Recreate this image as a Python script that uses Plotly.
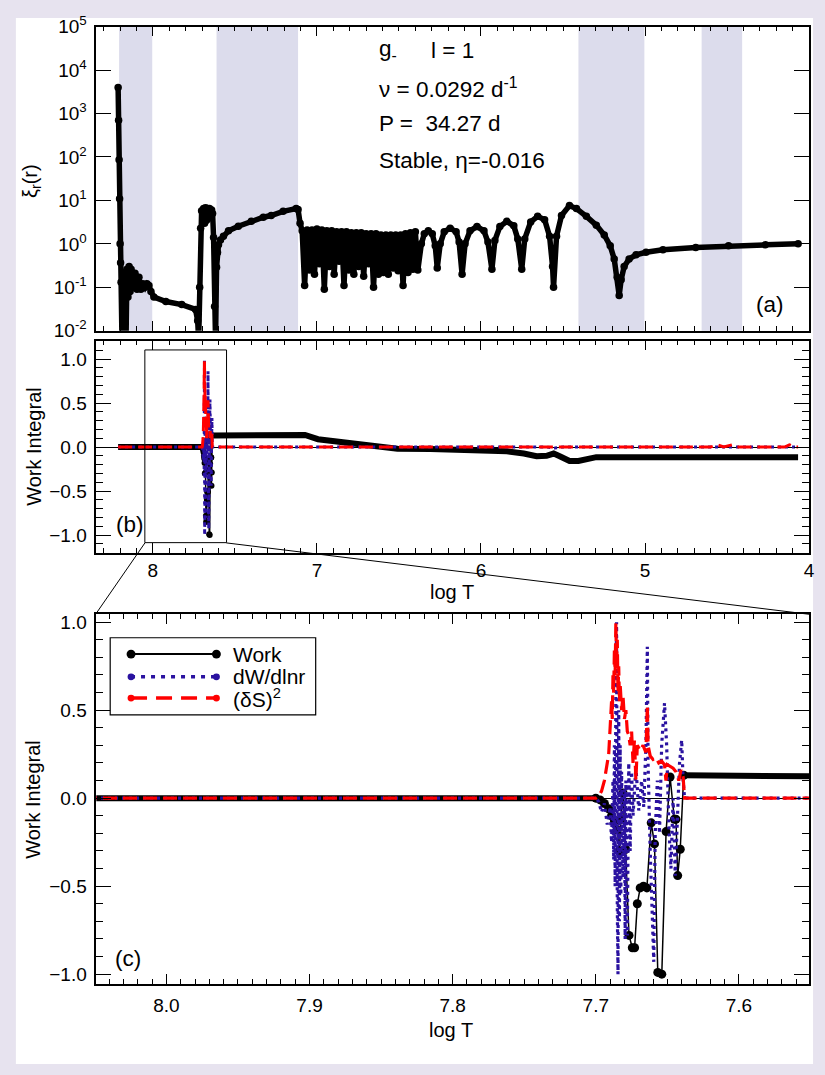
import plotly.graph_objects as go

W, H = 825, 1075
FONT = "Liberation Sans, Arial, sans-serif"
LAV = "#e7e3ef"
BAND = "#dcdcec"
BLUE = "#2a12a0"
RED = "#ff0000"

# ---------------- data ----------------
# convective zones (shaded in panel a), log T edges
band_hot = [8.206, 7.612, 5.406, 4.655]
band_cool = [8.004, 7.115, 5.004, 4.408]

# panel (a): radial displacement |xi_r| vs log T
xi_logT = [
    8.212, 8.209, 8.206, 8.203, 8.200, 8.197, 8.194, 8.188, 8.182, 8.176,
    8.170, 8.164, 8.158, 8.152, 8.145, 8.139, 8.133, 8.121, 8.109, 8.097,
    8.085, 8.073, 8.061, 8.048, 8.036, 8.024, 8.012, 7.994, 7.921, 7.824,
    7.740, 7.727, 7.721, 7.715, 7.709, 7.703, 7.691, 7.685, 7.679, 7.673,
    7.667, 7.661, 7.655, 7.648, 7.642, 7.636, 7.630, 7.624, 7.618, 7.612,
    7.606, 7.600, 7.588, 7.570, 7.539, 7.479, 7.400, 7.327, 7.279, 7.206,
    7.127, 7.115, 7.103,
    7.090, 7.075, 7.060, 7.045, 7.030, 7.015, 7.000, 6.985, 6.970, 6.955,
    6.940, 6.925, 6.910, 6.895, 6.880, 6.865, 6.850, 6.835, 6.820, 6.805,
    6.790, 6.775, 6.760, 6.745, 6.730, 6.715, 6.700, 6.685, 6.670, 6.655,
    6.640, 6.625, 6.610, 6.595, 6.580, 6.565, 6.550, 6.535, 6.520, 6.505,
    6.490, 6.475, 6.460, 6.445, 6.430, 6.415, 6.400, 6.385,
    6.3636, 6.3455, 6.3212, 6.2970, 6.2788, 6.2667, 6.2485, 6.2242, 6.1879, 6.1515,
    6.1333, 6.1152, 6.0970, 6.0667, 6.0242, 5.9818, 5.9576, 5.9333, 5.9152, 5.8848,
    5.8424, 5.8000, 5.7758, 5.7515, 5.7333, 5.6970, 5.6545, 5.6121, 5.5818, 5.5636,
    5.5576, 5.5394, 5.5091, 5.4606, 5.4182, 5.3576, 5.2970, 5.2485, 5.2121, 5.1879,
    5.1697, 5.1576, 5.1455, 5.1273, 5.0970, 5.0545, 4.9939, 4.8909, 4.6909, 4.4909,
    4.2667, 4.0667,
]
xi_val = [
    4000, 700, 87, 11, 1.0, 0.37, 0.13, 0.005, 0.22, 0.036,
    0.19, 0.005, 0.26, 0.06, 0.30, 0.08, 0.26, 0.10, 0.21, 0.09,
    0.17, 0.09, 0.12, 0.10, 0.12, 0.11, 0.08, 0.06, 0.047, 0.040,
    0.031, 0.017, 0.006, 0.10, 2.3, 5.8, 6.5, 3.0, 6.8, 3.5,
    6.5, 3.9, 6.5, 4.8, 6.0, 5.0, 1.4, 0.036, 0.006, 0.29,
    0.63, 0.95, 1.23, 1.5, 2.0, 2.55, 3.3, 4.1, 4.5, 5.6,
    6.5, 6.2, 3.0,
    2.0, 0.11, 2.1, 0.25, 2.1, 0.20, 2.2, 0.35, 2.1, 0.09,
    2.0, 0.30, 2.0, 0.20, 1.9, 0.40, 1.9, 0.11, 1.9, 0.25,
    1.8, 0.20, 1.8, 0.30, 1.8, 0.18, 1.7, 0.35, 1.7, 0.10,
    1.7, 0.20, 1.6, 0.22, 1.6, 0.20, 1.6, 0.28, 1.6, 0.24,
    1.6, 0.11, 1.7, 0.22, 1.8, 0.26, 1.9, 0.25,
    1.0, 1.7, 2.0, 1.7, 0.9, 0.28, 1.0, 1.9, 2.3, 1.9,
    1.1, 0.20, 1.0, 2.0, 2.5, 2.0, 1.1, 0.26, 1.2, 2.5,
    3.3, 2.6, 1.3, 0.26, 1.3, 3.2, 4.3, 3.6, 1.5, 0.30,
    0.10, 1.5, 4.5, 7.6, 6.5, 4.3, 2.7, 1.6, 0.9, 0.45,
    0.17, 0.065, 0.15, 0.30, 0.45, 0.56, 0.64, 0.73, 0.82, 0.90,
    0.95, 1.0,
]

# panels (b)/(c): work integral
work_core_logT = [8.212, 7.700]
work_core_val = [0.0, 0.0]
work_spike_logT = [
    7.700, 7.697, 7.694, 7.691, 7.689, 7.687, 7.685, 7.6835, 7.6825, 7.681,
    7.6792, 7.6768, 7.6745, 7.6729, 7.6710, 7.6690, 7.6667, 7.6643, 7.6613, 7.6590,
    7.6567, 7.6539, 7.6509, 7.6481, 7.6451, 7.6440, 7.6428, 7.6410, 7.6386,
]
work_spike_val = [
    0.0, -0.01, -0.03, -0.06, -0.10, -0.13, -0.18, -0.30, -0.12, 0.03,
    -0.29, -0.78, -0.85, -0.85, -0.60, -0.51, -0.50, -0.51, -0.14, -0.26,
    -0.99, -1.00, -0.19, 0.12, -0.12, -0.12, -0.44, -0.29, 0.13,
]
work_env_logT = [
    7.6386, 7.400, 7.200, 7.073, 6.994, 6.915, 6.812, 6.709, 6.612, 6.509,
    6.309, 6.103, 5.903, 5.842, 5.739, 5.661, 5.600, 5.557, 5.520, 5.460,
    5.406, 5.358, 5.297, 4.067,
]
work_env_val = [
    0.13, 0.13, 0.135, 0.137, 0.089, 0.074, 0.044, 0.026, 0.0, -0.019,
    -0.022, -0.030, -0.037, -0.048, -0.074, -0.104, -0.100, -0.074, -0.104, -0.159,
    -0.159, -0.133, -0.115, -0.115,
]

# differential work dW/dlnr
dw_logT = [
    8.212, 7.705, 7.700, 7.698, 7.696, 7.694, 7.692, 7.690, 7.689, 7.688,
    7.6875, 7.687, 7.6865, 7.686, 7.6855, 7.685, 7.6845, 7.684, 7.6835, 7.683,
    7.6825, 7.682, 7.681, 7.680, 7.6795, 7.679, 7.678, 7.677, 7.676, 7.675,
    7.674, 7.672, 7.670, 7.668, 7.6665, 7.665, 7.664, 7.6635, 7.662, 7.6595,
    7.6585, 7.657, 7.6555, 7.654, 7.652, 7.6505, 7.649, 7.6475, 7.646, 7.6445,
    7.643, 7.6415, 7.640, 7.639, 7.638, 5.600, 5.550, 5.500, 4.067,
]
dw_val = [
    0.0, 0.0, 0.0, -0.02, -0.08, -0.03, -0.15, -0.05, -0.25, 0.10,
    -0.35, 0.30, -0.50, 0.60, 1.00, -0.60, -1.00, 0.50, -0.70, 0.30,
    -0.55, 0.15, -0.45, 0.05, -0.80, 0.10, -0.78, 0.20, -0.30, 0.15,
    -0.10, 0.18, -0.07, 0.10, -0.05, 0.30, 0.86, 0.20, -0.30, -0.93,
    -0.20, 0.10, -0.20, 0.30, 0.54, 0.30, -0.15, -0.40, 0.0, -0.44,
    -0.10, 0.20, 0.33, 0.10, 0.0, 0.0, -0.012, 0.0, 0.0,
]

# entropy perturbation (dS)^2
ds_logT = [
    8.212, 7.705, 7.700, 7.698, 7.696, 7.694, 7.6925, 7.691, 7.690, 7.689,
    7.6885, 7.688, 7.6875, 7.687, 7.6865, 7.686, 7.6855, 7.685, 7.6845, 7.684,
    7.6835, 7.683, 7.682, 7.681, 7.680, 7.679, 7.678, 7.677, 7.676, 7.675,
    7.674, 7.673, 7.672, 7.671, 7.669, 7.667, 7.665, 7.664, 7.6635, 7.662,
    7.660, 7.658, 7.656, 7.654, 7.652, 7.651, 7.650, 7.648, 7.646, 7.644,
    7.642, 7.6405, 7.639, 7.638, 4.600, 4.560, 4.520, 4.470, 4.440, 4.410,
    4.150, 4.120, 4.090, 4.067,
]
ds_val = [
    0.0, 0.0, 0.0, 0.01, 0.04, 0.10, 0.18, 0.25, 0.40, 0.55,
    0.45, 0.70, 0.60, 0.85, 0.70, 1.00, 0.75, 0.90, 0.60, 0.75,
    0.55, 0.65, 0.50, 0.58, 0.45, 0.50, 0.38, 0.36, 0.30, 0.38,
    0.20, 0.33, 0.10, 0.30, 0.27, 0.30, 0.26, 0.53, 0.30, 0.24,
    0.22, 0.23, 0.20, 0.21, 0.19, 0.10, 0.19, 0.18, 0.17, 0.15,
    0.10, 0.16, 0.12, 0.0, 0.0, 0.025, 0.0, 0.025, 0.0, 0.0,
    0.0, 0.025, 0.0, 0.0,
]

ytick_a_vals = [1e-2, 1e-1, 1e0, 1e1, 1e2, 1e3, 1e4, 1e5]
ytick_a_text = ["10<sup>-2</sup>", "10<sup>-1</sup>", "10<sup>0</sup>", "10<sup>1</sup>",
                "10<sup>2</sup>", "10<sup>3</sup>", "10<sup>4</sup>", "10<sup>5</sup>"]
xtick_b_vals = [8, 7, 6, 5, 4]
xtick_b_text = ["8", "7", "6", "5", "4"]

full_range = [8.345, 4.0]
zoom_range = [8.049, 7.551]
zoom_box_y = [-1.086, 1.103]


# ---------------- layout helpers ----------------
def px(x):
    return x / W


def py(y):
    return 1 - y / H


XDOM = [px(97), px(815)]

fig = go.Figure()

# panel a
fig.add_trace(go.Scatter(x=xi_logT, y=xi_val, mode="lines+markers",
                         line=dict(color="black", width=5.5),
                         marker=dict(size=7.5, color="black"),
                         xaxis="x", yaxis="y"))

# panels b and c
for xa, ya, msize, spw, cw in [("x2", "y2", 6, 1.5, 3), ("x3", "y3", 9, 1.5, 3.2)]:
    fig.add_trace(go.Scatter(x=work_core_logT, y=work_core_val, mode="lines",
                             line=dict(color="black", width=6), xaxis=xa, yaxis=ya))
    fig.add_trace(go.Scatter(x=work_env_logT, y=work_env_val, mode="lines",
                             line=dict(color="black", width=6), xaxis=xa, yaxis=ya))
    fig.add_trace(go.Scatter(x=work_spike_logT, y=work_spike_val, mode="lines+markers",
                             line=dict(color="black", width=spw),
                             marker=dict(size=msize, color="black"), xaxis=xa, yaxis=ya))
    fig.add_trace(go.Scatter(x=dw_logT, y=dw_val, mode="lines",
                             line=dict(color=BLUE, width=cw, dash="3px,4px"), xaxis=xa, yaxis=ya))
    fig.add_trace(go.Scatter(x=ds_logT, y=ds_val, mode="lines",
                             line=dict(color=RED, width=cw, dash="14px,6px"), xaxis=xa, yaxis=ya))

tickfont = dict(family=FONT, size=19, color="black")
common = dict(showline=True, linecolor="black", linewidth=1.5, mirror="ticks",
              ticks="inside", tickcolor="black", tickwidth=1.2, showgrid=False,
              zeroline=False, tickfont=tickfont)
common_nz = {k: v for k, v in common.items() if k != "zeroline"}

fig.update_layout(
    width=W, height=H, margin=dict(l=0, r=0, t=0, b=0),
    paper_bgcolor=LAV, plot_bgcolor="white", showlegend=False,
    font=dict(family=FONT, color="black"),
    xaxis=dict(domain=XDOM, anchor="y", range=full_range, showticklabels=False,
               tick0=0, dtick=1, ticklen=10,
               minor=dict(dtick=0.1, tick0=0, ticklen=5, ticks="inside", tickcolor="black"),
               **common),
    yaxis=dict(domain=[py(325), py(14)], anchor="x", type="log", range=[-2, 5],
               tickmode="array", tickvals=ytick_a_vals, ticktext=ytick_a_text,
               ticklen=15, ticklabelstandoff=4, **common),
    xaxis2=dict(domain=XDOM, anchor="y2", range=full_range,
                tickmode="array", tickvals=xtick_b_vals, ticktext=xtick_b_text,
                ticklen=10, ticklabelstandoff=0,
                minor=dict(dtick=0.1, tick0=0, ticklen=5, ticks="inside", tickcolor="black"),
                **common),
    yaxis2=dict(domain=[py(552), py(335)], anchor="x2", range=[-1.2, 1.21],
                tick0=0, dtick=0.5, tickformat=".1f", ticklen=15, ticklabelstandoff=4,
                minor=dict(dtick=0.1, tick0=0, ticklen=7, ticks="inside", tickcolor="black"),
                zeroline=True, zerolinecolor="black", zerolinewidth=1, **common_nz),
    xaxis3=dict(domain=XDOM, anchor="y3", range=zoom_range,
                tick0=0, dtick=0.1, tickformat=".1f", ticklen=10, ticklabelstandoff=4,
                minor=dict(dtick=0.01, tick0=0, ticklen=5, ticks="inside", tickcolor="black"),
                **common),
    yaxis3=dict(domain=[py(993), py(615)], anchor="x3", range=[-1.055, 1.045],
                tick0=0, dtick=0.5, tickformat=".1f", ticklen=15, ticklabelstandoff=4,
                minor=dict(dtick=0.1, tick0=0, ticklen=7, ticks="inside", tickcolor="black"),
                zeroline=True, zerolinecolor="black", zerolinewidth=1, **common_nz),
)

shapes = []
# white page
shapes.append(dict(type="rect", xref="paper", yref="paper", x0=px(16), x1=px(819),
                   y0=py(1075), y1=py(5), fillcolor="white", line=dict(width=0), layer="below"))
# convection zones in panel a
for lo, hi in zip(band_hot, band_cool):
    shapes.append(dict(type="rect", xref="x", yref="y domain", x0=lo, x1=hi, y0=0, y1=1,
                       fillcolor=BAND, line=dict(width=0), layer="below"))
# zoom box in panel b
shapes.append(dict(type="rect", xref="x2", yref="y2", x0=zoom_range[0], x1=zoom_range[1],
                   y0=zoom_box_y[0], y1=zoom_box_y[1], line=dict(color="black", width=1)))
# connector lines
shapes.append(dict(type="line", xref="paper", yref="paper", x0=px(146), y0=py(542),
                   x1=px(97), y1=py(614), line=dict(color="black", width=1)))
shapes.append(dict(type="line", xref="paper", yref="paper", x0=px(228), y0=py(542),
                   x1=px(815), y1=py(615), line=dict(color="black", width=1)))

# legend in panel c
shapes.append(dict(type="rect", xref="paper", yref="paper", x0=px(111), x1=px(318),
                   y0=py(718), y1=py(639), fillcolor="white", line=dict(color="black", width=1.2)))
leg_items = [
    ("Work", "black", "solid", 2, 655.7, 4.5),
    ("dW/dlnr", BLUE, "4px,6px", 3.5, 679.0, 3.5),
    ("(δS)<sup>2</sup>", RED, "16px,9px", 3.5, 700.7, 3.5),
]
annotations = []
for label, col, dash, lw, yy, r in leg_items:
    shapes.append(dict(type="line", xref="paper", yref="paper", x0=px(132), x1=px(218),
                       y0=py(yy), y1=py(yy), line=dict(color=col, width=lw, dash=dash)))
    for xc in (132, 218):
        shapes.append(dict(type="circle", xref="paper", yref="paper",
                           x0=px(xc - r), x1=px(xc + r), y0=py(yy + r), y1=py(yy - r),
                           fillcolor=col, line=dict(color=col, width=0)))
    annotations.append(dict(xref="paper", yref="paper", x=px(233), y=py(yy), text=label,
                            xanchor="left", yanchor="middle", showarrow=False,
                            font=dict(family=FONT, size=21, color="black")))


def txt(x, y, s, size=22.5, xanchor="left", angle=0):
    annotations.append(dict(xref="paper", yref="paper", x=px(x), y=py(y), text=s,
                            xanchor=xanchor, yanchor="middle", showarrow=False,
                            textangle=angle, font=dict(family=FONT, size=size, color="black")))


txt(380, 38, "g<sub>-</sub>")
txt(432, 38, "l = 1")
txt(380, 77, "ν = 0.0292 d<sup>-1</sup>")
txt(380, 113, "P =\u00a0 34.27 d")
txt(380, 151, "Stable, η=-0.016")
txt(776, 298, "(a)", xanchor="center")
txt(131, 523, "(b)", xanchor="center")
txt(129, 967, "(c)", xanchor="center")
# axis titles
txt(31, 172, "ξ<sub>r</sub>(r)", size=20, xanchor="center", angle=-90)
txt(34, 443, "Work Integral", size=20, xanchor="center", angle=-90)
txt(33, 804, "Work Integral", size=20, xanchor="center", angle=-90)
txt(455, 592, "log T", size=20, xanchor="center")
txt(454, 1040, "log T", size=20, xanchor="center")

fig.update_layout(shapes=shapes, annotations=annotations)
fig.write_html("out.html")
